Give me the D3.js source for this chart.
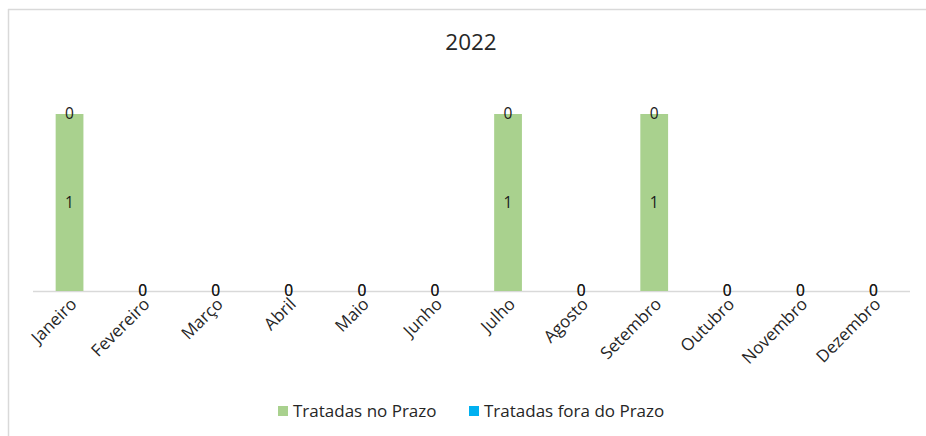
<!DOCTYPE html>
<html>
<head>
<meta charset="utf-8">
<script src="https://cdn.jsdelivr.net/npm/d3@7"></script>
<style>
  body { margin: 0; background: #fff; }
  svg { display: block; font-family: "Open Sans", "Noto Sans", sans-serif; }
</style>
</head>
<body>
<svg id="chart" width="926" height="436"></svg>
<script>
const title = "2022";
const months = ["Janeiro","Fevereiro","Março","Abril","Maio","Junho","Julho","Agosto","Setembro","Outubro","Novembro","Dezembro"];
const noPrazo = [1,0,0,0,0,0,1,0,1,0,0,0];
const foraPrazo = [0,0,0,0,0,0,0,0,0,0,0,0];
const seriesNames = ["Tratadas no Prazo","Tratadas fora do Prazo"];
const colors = ["#A9D18E","#00B0F0"];

const svg = d3.select("#chart");
const W = 926, H = 436;

// frame
svg.append("line").attr("x1",8.5).attr("x2",8.5).attr("y1",9).attr("y2",H).attr("stroke","#d9d9d9").attr("stroke-width",1.5);
svg.append("line").attr("x1",8).attr("x2",W).attr("y1",9.5).attr("y2",9.5).attr("stroke","#d9d9d9").attr("stroke-width",1.5);

svg.append("text").attr("x",471).attr("y",50).attr("text-anchor","middle")
  .attr("font-size",22.5).attr("fill","#262626").text(title);

const x = d3.scaleBand().domain(months).range([33,910]).paddingInner(0.62).paddingOuter(0.31);
const y = d3.scaleLinear().domain([0,1]).range([291,114]);

const data = months.map((m,i)=>({m, a:noPrazo[i], b:foraPrazo[i]}));
const stack = d3.stack().keys(["a","b"])(data);

// baseline
svg.append("line").attr("x1",33).attr("x2",910).attr("y1",y(0)+0.5).attr("y2",y(0)+0.5)
  .attr("stroke","#d9d9d9").attr("stroke-width",1.5);

stack.forEach((s,si)=>{
  svg.append("g").selectAll("rect").data(s).join("rect")
    .attr("x",d=>x(d.data.m)).attr("width",x.bandwidth())
    .attr("y",d=>y(d[1])).attr("height",d=>y(d[0])-y(d[1]))
    .attr("fill",colors[si]);
});

// data labels
stack.forEach((s,si)=>{
  svg.append("g").selectAll("text").data(s).join("text")
    .attr("x",d=>x(d.data.m)+x.bandwidth()/2)
    .attr("y",d=>(y(d[0])+y(d[1]))/2)
    .attr("dy","0.35em").attr("text-anchor","middle")
    .attr("font-size",15.5).attr("fill","#1a1a1a")
    .text(d=>d[1]-d[0]);
});

// x axis labels
svg.append("g").selectAll("text").data(months).join("text")
  .attr("transform",m=>`translate(${x(m)+x.bandwidth()/2+4},${301}) rotate(-45)`)
  .attr("text-anchor","end").attr("dy","0.35em")
  .attr("font-size",17).attr("fill","#262626").text(m=>m);

// legend
const leg = [{n:seriesNames[0],c:colors[0],x:278},{n:seriesNames[1],c:colors[1],x:469}];
leg.forEach(l=>{
  svg.append("rect").attr("x",l.x).attr("y",406).attr("width",10).attr("height",10).attr("fill",l.c);
  svg.append("text").attr("x",l.x+15).attr("y",411).attr("dy","0.35em")
    .attr("font-size",17).attr("fill","#262626").text(l.n);
});
</script>
</body>
</html>
